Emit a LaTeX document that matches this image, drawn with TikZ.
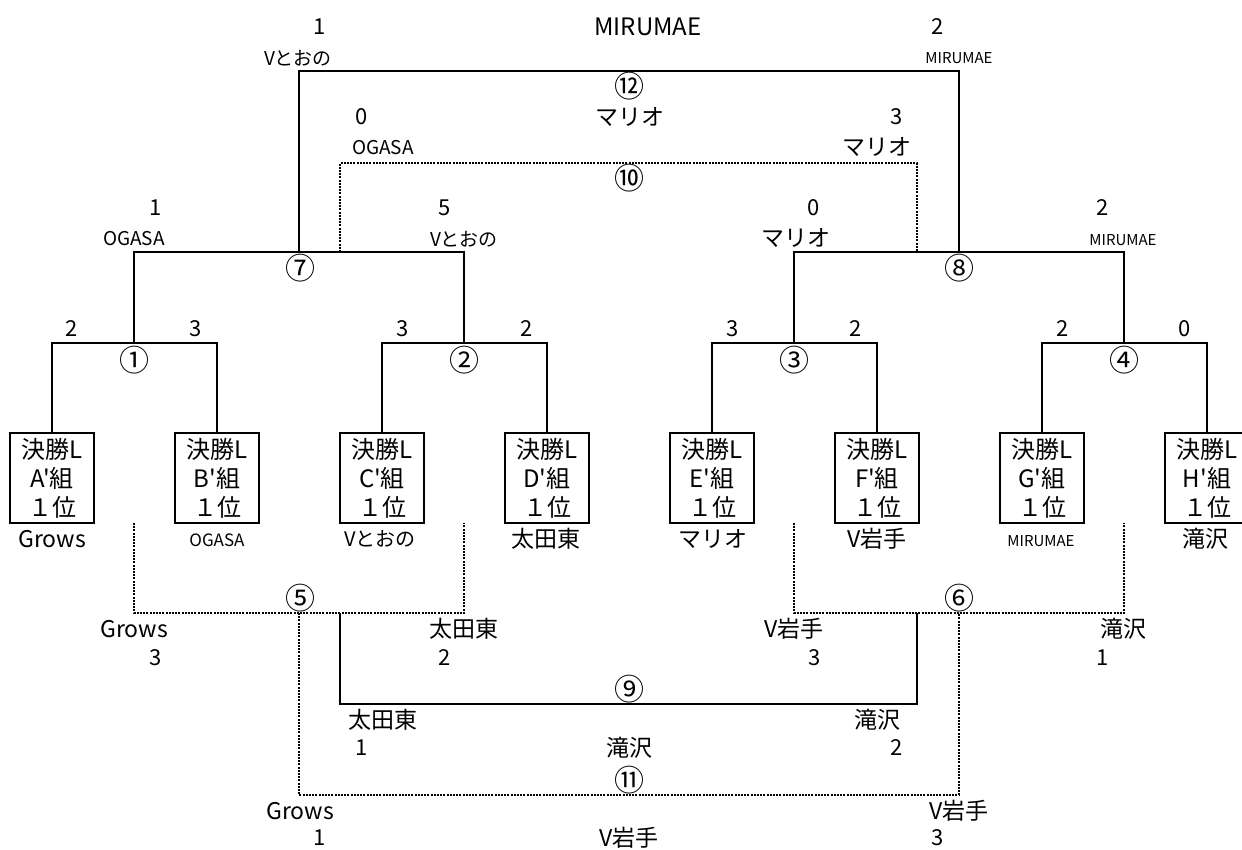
\documentclass[tikz,border=0pt]{standalone}
\usepackage{fontspec}
\setmainfont{Noto Sans CJK JP}
\newfontfamily\jpf{Noto Sans CJK JP}
\begin{document}
\begin{tikzpicture}[x=1pt,y=-1pt,
  ln/.style={line width=2pt},
  dl/.style={line width=2pt, dash pattern=on 2pt off 1.2pt},
  lab/.style={inner sep=0pt, anchor=center},
  num/.style={lab, font=\jpf\fontsize{22}{24}\selectfont},
  jp/.style={lab, font=\jpf\fontsize{23}{26}\selectfont},
  sm/.style={lab, font=\jpf\fontsize{19}{21}\selectfont},
  xs/.style={lab, font=\jpf\fontsize{15}{17}\selectfont},
  big/.style={lab, font=\jpf\fontsize{24}{26}\selectfont},
  circ/.style={lab, font=\jpf\fontsize{30}{32}\selectfont},
  team/.style={draw, line width=2pt, minimum width=84pt, minimum height=90pt, inner sep=0pt, align=center, font=\jpf\fontsize{24}{29}\selectfont}
]
\clip (0,0) rectangle (1242,849);

% boxes
\node[team] (bA) at (52,478) {決勝L\\A'組\\１位};
\node[team] (bB) at (217,478) {決勝L\\B'組\\１位};
\node[team] (bC) at (382,478) {決勝L\\C'組\\１位};
\node[team] (bD) at (547,478) {決勝L\\D'組\\１位};
\node[team] (bE) at (712,478) {決勝L\\E'組\\１位};
\node[team] (bF) at (877,478) {決勝L\\F'組\\１位};
\node[team] (bG) at (1042,478) {決勝L\\G'組\\１位};
\node[team] (bH) at (1207,478) {決勝L\\H'組\\１位};

% junctions
\coordinate (j1) at (134,343);
\coordinate (j2) at (464,343);
\coordinate (j3) at (794,343);
\coordinate (j4) at (1124,343);
\coordinate (j7) at (299,252);
\coordinate (j8) at (959,252);
\coordinate (j12) at (629,71);
\coordinate (p10a) at (340,252);
\coordinate (p10b) at (917,252);
\coordinate (j10) at (629,163);
\coordinate (d1) at (134,523);
\coordinate (d2) at (464,523);
\coordinate (d3) at (794,523);
\coordinate (d4) at (1124,523);
\coordinate (j5) at (299,613);
\coordinate (j6) at (959,613);
\coordinate (p9a) at (340,613);
\coordinate (p9b) at (917,613);
\coordinate (j9) at (629,704);
\coordinate (j11) at (629,795);

% winners bracket
\draw[ln] (bA.north) |- (j1) -| (bB.north);
\draw[ln] (bC.north) |- (j2) -| (bD.north);
\draw[ln] (bE.north) |- (j3) -| (bF.north);
\draw[ln] (bG.north) |- (j4) -| (bH.north);
\draw[ln] (j1) |- (j7) -| (j2);
\draw[ln] (j3) |- (j8) -| (j4);
\draw[ln] (j7) |- (j12) -| (j8);
\draw[dl] (p10a) |- (j10) -| (p10b);
% lower bracket
\draw[dl] (d1) |- (j5) -| (d2);
\draw[dl] (d3) |- (j6) -| (d4);
\draw[ln] (p9a) |- (j9) -| (p9b);
\draw[dl] (j5) |- (j11) -| (j6);

% top labels
\node[num] (s12a) at (320,27) {1};
\node[big] (w12) at (648,27) {MIRUMAE};
\node[num] (s12b) at (938,27) {2};
\node[sm] (n12a) at (298,58) {Vとおの};
\node[xs] (n12b) at (959,58) {MIRUMAE};
\node[circ] (c12) at (629,86) {⑫};
\node[jp] (w10) at (630,117) {マリオ};
\node[num] (s10a) at (362,117) {0};
\node[num] (s10b) at (897,117) {3};
\node[sm] (n10a) at (383,148) {OGASA};
\node[jp] (n10b) at (877,147) {マリオ};
\node[circ] (c10) at (629,178) {⑩};

\node[num] (s7a) at (156,208) {1};
\node[num] (s7b) at (445,208) {5};
\node[num] (s8a) at (814,208) {0};
\node[num] (s8b) at (1103,208) {2};
\node[sm] (n7a) at (134,239) {OGASA};
\node[sm] (n7b) at (464,239) {Vとおの};
\node[jp] (n8a) at (796,238) {マリオ};
\node[xs] (n8b) at (1123,240) {MIRUMAE};
\node[circ] (c7) at (300,268) {⑦};
\node[circ] (c8) at (959,268) {⑧};

\node[num] (sA) at (72,329) {2};
\node[num] (sB) at (196,329) {3};
\node[num] (sC) at (403,329) {3};
\node[num] (sD) at (527,329) {2};
\node[num] (sE) at (733,329) {3};
\node[num] (sF) at (856,329) {2};
\node[num] (sG) at (1063,329) {2};
\node[num] (sH) at (1185,329) {0};
\node[circ] (c1) at (134,360) {①};
\node[circ] (c2) at (464,360) {②};
\node[circ] (c3) at (794,360) {③};
\node[circ] (c4) at (1124,360) {④};

% team names under boxes
\node[jp] (tA) at (52,539) {Grows};
\node[xs, font=\jpf\fontsize{17}{19}\selectfont] (tB) at (217,540) {OGASA};
\node[sm, font=\jpf\fontsize{20}{22}\selectfont] (tC) at (380,539) {Vとおの};
\node[jp] (tD) at (546,539) {太田東};
\node[jp] (tE) at (713,539) {マリオ};
\node[jp] (tF) at (877,539) {V岩手};
\node[xs] (tG) at (1041,541) {MIRUMAE};
\node[jp] (tH) at (1205,539) {滝沢};

% lower labels
\node[circ] (c5) at (300,598) {⑤};
\node[circ] (c6) at (959,598) {⑥};
\node[jp] (n5a) at (134,629) {Grows};
\node[num] (s5a) at (156,658) {3};
\node[jp] (n5b) at (464,629) {太田東};
\node[num] (s5b) at (445,658) {2};
\node[jp] (n6a) at (794,629) {V岩手};
\node[num] (s6a) at (815,658) {3};
\node[jp] (n6b) at (1123,629) {滝沢};
\node[num] (s6b) at (1103,658) {1};

\node[circ] (c9) at (629,689) {⑨};
\node[jp] (n9a) at (383,720) {太田東};
\node[num] (s9a) at (362,748) {1};
\node[jp] (n9b) at (877,720) {滝沢};
\node[num] (s9b) at (897,748) {2};
\node[jp] (w9) at (629,748) {滝沢};

\node[circ] (c11) at (629,780) {⑪};
\node[jp] (n11a) at (300,811) {Grows};
\node[num] (s11a) at (320,838) {1};
\node[jp] (n11b) at (959,811) {V岩手};
\node[num] (s11b) at (938,838) {3};
\node[jp] (w11) at (629,838) {V岩手};
\end{tikzpicture}
\end{document}
